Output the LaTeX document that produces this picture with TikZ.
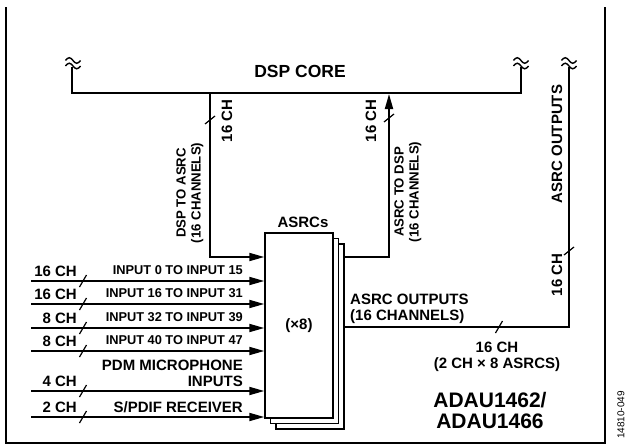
\documentclass[tikz,border=0pt]{standalone}
\usepackage{fontspec}
\setmainfont{Liberation Sans}
\usetikzlibrary{arrows.meta}

\begin{document}
\begin{tikzpicture}[x=1pt, y=-1pt,
    wire/.style={line width=1.8pt},
    feed/.style={wire, -{Triangle[length=15pt, width=8pt]}},
    tick/.style={line width=1.2pt},
    wave/.style={line width=1.4pt},
    asrcbox/.style={draw, fill=white, line width=1.4pt, minimum width=68pt, minimum height=185pt, inner sep=0pt},
    big/.style={font=\bfseries\fontsize{15}{16}\selectfont, inner sep=0pt},
    mid/.style={font=\bfseries\fontsize{13.2}{15}\selectfont, inner sep=0pt},
    small/.style={font=\bfseries\fontsize{12.8}{14}\selectfont, inner sep=0pt}]
\useasboundingbox (0,0) rectangle (630,447);

% chip outline
\draw[line width=2pt] (5.5,7) -- (5.5,443) -- (605,443) -- (605,7);

% dsp core bus
\coordinate (busL) at (72,93);
\coordinate (busR) at (521,93);
\coordinate (busLend) at (72,67);
\coordinate (busRend) at (521,67);
\draw[line width=2.6pt] (busLend) -- (busL) -- (busR) -- (busRend);
\node[font=\bfseries\fontsize{17.5}{18}\selectfont, inner sep=0pt, anchor=base] (core) at (300,77) {DSP CORE};

% asrc stack
\node[asrcbox] (asrc3) at (310,336.5) {};
\node[asrcbox] (asrc2) at (304.5,331) {};
\node[asrcbox, big] (asrc) at (299,325.5) {(×8)};
\node[big, anchor=base] (asrcs) at (303,227) {ASRCs};

% dsp to asrc and back
\coordinate (tapL) at (210,93);
\coordinate (inDsp) at (asrc.west |- 0,257);
\draw[feed] (tapL) |- (inDsp);
\coordinate (outDsp) at (asrc3.east |- 0,257);
\coordinate (tapR) at (389,94);
\draw[feed] (outDsp) -| (tapR);

% asrc outputs
\coordinate (outAll) at (asrc3.east |- 0,327);
\coordinate (outEnd) at (569,67);
\draw[wire] (outAll) -| (outEnd);

% break marks
\foreach \x in {73, 521, 569}
  \foreach \y in {60.5, 66}
    \draw[wave] (\x-7.5,\y) sin (\x-3.75,\y-2.8) cos (\x,\y) sin (\x+3.75,\y+2.8) cos (\x+7.5,\y);

% inputs
\foreach \y/\ch/\txt [count=\i] in {281/16/INPUT 0 TO INPUT 15, 304/16/INPUT 16 TO INPUT 31,
    328/8/INPUT 32 TO INPUT 39, 351/8/INPUT 40 TO INPUT 47} {
  \coordinate (src\i) at (31,\y);
  \coordinate (dst\i) at (asrc.west |- 0,\y);
  \draw[feed] (src\i) -- (dst\i);
  \node[big, anchor=base east] (ch\i) at (77,\y-4.5) {\ch{} CH};
  \node[small, anchor=base east] (lab\i) at (243,\y-7) {\txt};
}
\coordinate (src5) at (31,391);
\coordinate (dst5) at (asrc.west |- 0,391);
\draw[feed] (src5) -- (dst5);
\node[big, anchor=base east] (ch5) at (77,386.5) {4 CH};
\node[big, anchor=base east, align=right] (lab5) at (243,386) {PDM MICROPHONE\\INPUTS};
\coordinate (src6) at (31,417);
\coordinate (dst6) at (asrc.west |- 0,417);
\draw[feed] (src6) -- (dst6);
\node[big, anchor=base east] (ch6) at (77,412.5) {2 CH};
\node[big, anchor=base east] (lab6) at (243,412) {S/PDIF RECEIVER};

% channel ticks
\foreach \x/\y in {210/120, 389/118, 569/251}
  \draw[tick] (\x-5,\y+4) -- (\x+5,\y-4);
\foreach \x/\y in {83/281, 83/304, 83/328, 83/351, 83/391, 83/417, 499/327}
  \draw[tick] (\x-3.5,\y+6) -- (\x+3.5,\y-6);

% labels
\node[big, rotate=90] (chL) at (227,121) {16 CH};
\node[big, rotate=90] (chR) at (371,121) {16 CH};
\node[mid, rotate=90, align=center] (dspasrc) at (190,193) {DSP TO ASRC\\(16 CHANNELS)};
\node[mid, rotate=90, align=center] (asrcdsp) at (408,192) {ASRC TO DSP\\(16 CHANNELS)};
\node[big, rotate=90] (outlab) at (557,144) {ASRC OUTPUTS};
\node[big, rotate=90] (chO) at (557,275) {16 CH};
\node[big, anchor=base west, align=left] (outtxt) at (350,320) {ASRC OUTPUTS\\(16 CHANNELS)};
\node[big, anchor=base, align=center] (chtxt) at (497,368) {16 CH\\(2 CH × 8 ASRCS)};
\node[font=\bfseries\fontsize{21}{21}\selectfont, inner sep=0pt, anchor=base, align=center] (part) at (490,428) {ADAU1462/\\ADAU1466};
\node[font=\fontsize{10}{10}\selectfont, inner sep=0pt, rotate=90] (fig) at (621,415) {14810-049};
\end{tikzpicture}
\end{document}
